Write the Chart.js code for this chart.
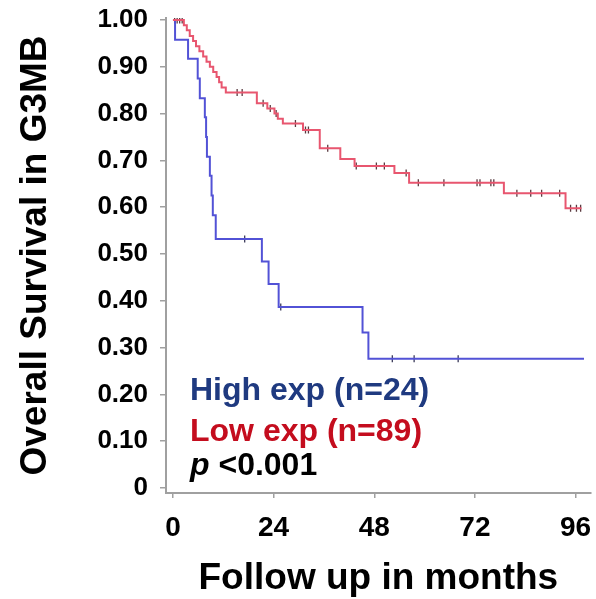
<!DOCTYPE html>
<html>
<head>
<meta charset="utf-8">
<script src="https://cdn.jsdelivr.net/npm/chart.js@4.4.0/dist/chart.umd.min.js"></script>
<style>
  html, body { margin: 0; padding: 0; background: #fff; }
  #wrap { width: 596px; height: 599px; }
</style>
</head>
<body>
<div id="wrap"><canvas id="km"></canvas></div>
<script>
// Kaplan-Meier steps (months, survival after the event)
const HIGH_TIMES = [0, 0.5, 3.6, 5.9, 6.4, 7.6, 7.9, 8.1, 8.8, 9.2, 9.5, 10.2, 21.2, 22.8, 25.2, 45.2, 46.6, 98];
const HIGH_SURV  = [1.0, 0.958, 0.917, 0.875, 0.833, 0.792, 0.750, 0.708, 0.667, 0.625, 0.583, 0.532, 0.484, 0.436, 0.387, 0.332, 0.276, 0.276];
const HIGH_CENSOR = [17.1, 25.7, 52.3, 57.5, 68.0];

const LOW_TIMES = [0, 2.6, 3.3, 4.0, 4.8, 5.5, 6.3, 7.2, 8.0, 8.8, 9.6, 10.4, 11.0, 11.6, 12.6, 20.0, 22.5, 24.2, 25.0, 26.2, 31.0, 35.0, 39.9, 43.3, 52.8, 56.3, 78.9, 93.6, 97.4];
const LOW_SURV  = [1.0, 0.989, 0.978, 0.966, 0.955, 0.944, 0.933, 0.922, 0.911, 0.900, 0.889, 0.878, 0.867, 0.856, 0.845, 0.822, 0.811, 0.800, 0.789, 0.779, 0.765, 0.726, 0.703, 0.688, 0.673, 0.652, 0.630, 0.598, 0.598];
const LOW_CENSOR = [0.4, 1.0, 1.6, 2.2, 15.3, 16.5, 21.5, 23.2, 24.6, 29.2, 31.6, 32.3, 36.9, 43.7, 48.5, 50.4, 55.6, 58.5, 64.6, 72.5, 73.2, 75.8, 76.5, 82.0, 85.3, 87.9, 92.2, 94.8, 96.2, 97.2];

const X_TICKS = [0, 24, 48, 72, 96];
const Y_TICKS = [0, 0.1, 0.2, 0.3, 0.4, 0.5, 0.6, 0.7, 0.8, 0.9, 1.0];
const Y_TICK_LABELS = ['0', '0.10', '0.20', '0.30', '0.40', '0.50', '0.60', '0.70', '0.80', '0.90', '1.00'];

const SERIES_LABELS = ['High exp (n=24)', 'Low exp (n=89)'];
const P_VALUE_TEXT = '<0.001';

const FONT = '"Liberation Sans", Arial, sans-serif';

function toPoints(times, surv) {
  return times.map((t, i) => ({ x: t, y: surv[i] }));
}

// survival level at time t from the step function
function survAt(times, surv, t) {
  let s = surv[0];
  for (let i = 0; i < times.length; i++) {
    if (times[i] <= t) s = surv[i];
  }
  return s;
}

function censorPoints(censor, times, surv) {
  return censor.map(t => ({ x: t, y: survAt(times, surv, t) }));
}

const annotationText = {
  id: 'annotationText',
  afterDraw(chart) {
    const ctx = chart.ctx;
    ctx.save();
    ctx.textAlign = 'left';
    ctx.textBaseline = 'middle';
    ctx.font = `bold 32px ${FONT}`;
    ctx.fillStyle = '#1f3a80';
    ctx.fillText(SERIES_LABELS[0], 190, 391);
    ctx.fillStyle = '#c40d1e';
    ctx.fillText(SERIES_LABELS[1], 190, 432);
    ctx.fillStyle = '#000';
    ctx.font = `italic bold 32px ${FONT}`;
    ctx.fillText('p', 190, 466);
    const w = ctx.measureText('p ').width;
    ctx.font = `bold 32px ${FONT}`;
    ctx.fillText(P_VALUE_TEXT, 190 + w, 466);
    ctx.restore();
  }
};

new Chart(document.getElementById('km'), {
  type: 'line',
  data: {
    datasets: [
      {
        data: toPoints(LOW_TIMES, LOW_SURV),
        borderColor: '#e8566f',
        borderWidth: 2,
        stepped: 'before',
        pointRadius: 0,
        fill: false
      },
      {
        data: toPoints(HIGH_TIMES, HIGH_SURV),
        borderColor: '#5252d6',
        borderWidth: 2,
        stepped: 'before',
        pointRadius: 0,
        fill: false
      },
      {
        data: censorPoints(LOW_CENSOR, LOW_TIMES, LOW_SURV),
        showLine: false,
        pointStyle: 'line',
        rotation: 90,
        pointRadius: 3.5,
        pointBorderWidth: 1.3,
        pointBorderColor: '#5a3a40'
      },
      {
        data: censorPoints(HIGH_CENSOR, HIGH_TIMES, HIGH_SURV),
        showLine: false,
        pointStyle: 'line',
        rotation: 90,
        pointRadius: 3.5,
        pointBorderWidth: 1.3,
        pointBorderColor: '#3a3a5a'
      }
    ]
  },
  options: {
    responsive: true,
    maintainAspectRatio: false,
    animation: false,
    layout: { padding: { top: 18, right: 0, bottom: 0, left: 0 } },
    plugins: {
      legend: { display: false },
      tooltip: { enabled: false }
    },
    scales: {
      x: {
        type: 'linear',
        min: -1.66,
        max: 99.6,
        afterBuildTicks: s => { s.ticks = X_TICKS.map(v => ({ value: v })); },
        afterFit: s => { s.height = 106; s.paddingLeft = 0; s.paddingRight = 0; },
        ticks: {
          color: '#000',
          padding: 13,
          maxRotation: 0,
          font: { family: FONT, size: 28, weight: 'bold' }
        },
        grid: { drawOnChartArea: false, tickLength: 5, color: '#a0a0a0', lineWidth: 1.5 },
        border: { color: '#a0a0a0', width: 2 },
        title: {
          display: true,
          text: 'Follow up in months',
          color: '#000',
          font: { family: FONT, size: 37, weight: 'bold', lineHeight: 1 },
          padding: { top: 0, bottom: 2 }
        }
      },
      y: {
        min: -0.0107,
        max: 1.0043,
        afterBuildTicks: s => { s.ticks = Y_TICKS.map(v => ({ value: v })); },
        afterFit: s => { s.width = 166; s.paddingTop = 0; s.paddingBottom = 0; },
        ticks: {
          color: '#000',
          padding: 12,
          font: { family: FONT, size: 26, weight: 'bold' },
          callback: (v, i) => Y_TICK_LABELS[i]
        },
        grid: { drawOnChartArea: false, tickLength: 6, color: '#a0a0a0', lineWidth: 1.5 },
        border: { color: '#a0a0a0', width: 2 },
        title: {
          display: true,
          text: 'Overall Survival in G3MB',
          color: '#000',
          font: { family: FONT, size: 37, weight: 'bold', lineHeight: 1 },
          padding: { top: 17, bottom: 0 }
        }
      }
    }
  },
  plugins: [annotationText]
});
</script>
</body>
</html>
